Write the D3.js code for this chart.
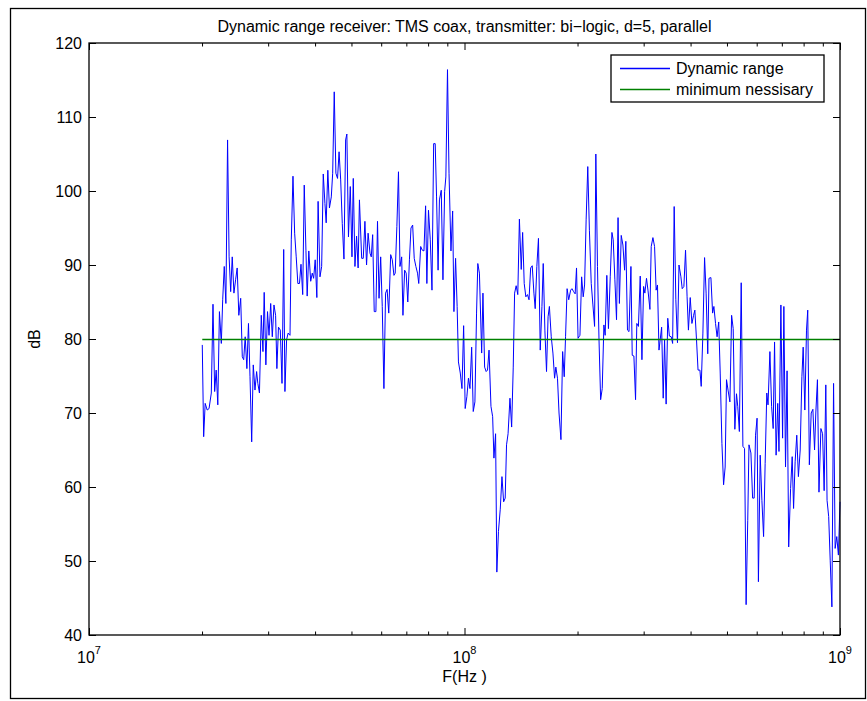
<!DOCTYPE html>
<html>
<head>
<meta charset="utf-8">
<script src="https://cdn.jsdelivr.net/npm/d3@7"></script>
<style>
  body { margin: 0; background: #fff; }
  text { font-family: "Liberation Sans", Arial, Helvetica, sans-serif; fill: #000; }
</style>
</head>
<body>
<svg width="867" height="701"></svg>
<script>
var freqMHz = [
  20.03, 20.20, 20.39, 20.64, 20.88, 21.17, 21.39, 21.61, 21.81, 22.03,
  22.25, 22.51, 22.70, 22.92, 23.15, 23.39, 23.61, 23.84, 24.07, 24.32,
  24.57, 24.81, 25.06, 25.35, 25.60, 25.82, 26.06, 26.33, 26.59, 26.84,
  27.12, 27.38, 27.67, 27.95, 28.16, 28.44, 28.76, 29.06, 29.28, 29.58,
  29.88, 30.16, 30.47, 30.77, 31.09, 31.40, 31.65, 31.96, 32.32, 32.66,
  33.00, 33.25, 33.59, 33.91, 34.30, 34.57, 34.93, 35.29, 35.63, 35.99,
  36.35, 36.69, 37.08, 37.43, 37.82, 38.11, 38.49, 38.94, 39.32, 39.65,
  40.03, 40.44, 40.75, 41.22, 41.65, 42.06, 42.49, 42.82, 43.25, 43.68,
  44.18, 44.56, 44.99, 45.45, 45.91, 46.34, 46.80, 47.26, 47.75, 48.24,
  48.61, 49.09, 49.64, 50.16, 50.56, 51.08, 51.59, 52.08, 52.51, 53.23,
  53.75, 54.30, 54.85, 55.37, 56.01, 56.46, 56.94, 57.49, 58.08, 58.66,
  59.21, 59.81, 60.39, 61.01, 61.64, 62.22, 62.85, 63.59, 64.22, 64.88,
  65.38, 66.05, 66.71, 67.32, 68.03, 68.56, 69.27, 69.93, 70.63, 71.34,
  72.02, 72.77, 73.47, 74.22, 74.97, 75.54, 76.44, 77.19, 77.98, 78.78,
  79.39, 80.18, 81.07, 81.92, 82.76, 83.56, 84.25, 85.05, 85.75, 86.72,
  87.62, 88.52, 89.20, 90.10, 90.95, 92.03, 92.99, 93.72, 94.68, 95.58,
  96.36, 97.44, 98.46, 99.47, 100.43, 101.45, 102.46, 103.41, 104.49, 105.51,
  106.59, 107.67, 108.50, 109.58, 111.10, 111.98, 113.13, 114.21, 115.16, 116.24,
  117.62, 118.84, 119.78, 121.00, 121.93, 123.15, 124.52, 125.82, 127.12, 128.34,
  129.41, 130.63, 132.15, 133.53, 134.83, 135.97, 137.27, 138.65, 140.03, 141.62,
  142.83, 144.22, 145.68, 147.15, 148.54, 150.03, 151.50, 153.06, 154.26, 155.82,
  157.38, 159.12, 160.78, 162.05, 163.71, 165.37, 166.94, 168.30, 170.22, 171.99,
  173.75, 175.10, 176.87, 178.53, 180.65, 182.53, 184.30, 185.84, 187.61, 189.49,
  191.72, 193.25, 195.24, 197.12, 198.77, 200.64, 202.97, 205.09, 207.09, 208.84,
  210.83, 212.96, 215.08, 217.53, 219.78, 222.04, 223.76, 226.02, 228.14, 230.44,
  232.69, 235.09, 236.93, 239.33, 241.73, 244.41, 246.96, 248.91, 251.46, 254.01,
  256.41, 258.51, 261.45, 264.17, 266.88, 268.95, 271.66, 274.21, 277.48, 279.68,
  282.56, 285.45, 287.65, 290.53, 293.76, 296.83, 299.89, 302.24, 305.30, 308.19,
  311.76, 314.25, 317.51, 320.77, 323.84, 326.52, 329.59, 334.94, 338.20, 341.05,
  344.31, 347.78, 351.24, 355.25, 358.28, 361.75, 365.43, 369.12, 372.59, 377.01,
  380.01, 383.93, 387.85, 391.53, 394.76, 399.14, 403.30, 407.47, 410.65, 414.82,
  418.74, 423.59, 426.98, 431.41, 435.83, 440.00, 444.43, 447.82, 453.15, 457.86,
  461.46, 466.17, 470.60, 475.31, 479.74, 484.75, 489.76, 494.47, 498.59, 503.30,
  509.13, 514.45, 519.46, 524.79, 530.11, 534.18, 539.50, 545.65, 551.31, 556.97,
  562.29, 567.95, 572.28, 579.09, 585.11, 590.77, 595.73, 601.39, 606.34, 613.07,
  619.47, 625.87, 631.89, 638.29, 643.18, 650.63, 657.43, 663.83, 669.44, 675.84,
  682.64, 687.85, 696.02, 703.26, 708.79, 716.02, 722.83, 730.06, 738.68, 745.91,
  752.25, 759.48, 767.17, 774.87, 783.46, 791.64, 797.89, 806.07, 814.24, 820.50,
  828.67, 838.11, 846.80, 855.49, 862.14, 870.83, 879.02, 889.47, 898.71, 907.41,
  916.65, 923.71, 932.96, 941.66, 951.49, 961.32, 970.56, 980.40, 990.22, 1000.0
];
var dynRange = [
  79.2, 66.8, 71.3, 70.4, 70.6, 72.7, 84.7, 72.9, 75.8, 71.1,
  83.7, 79.4, 85.3, 89.8, 84.8, 106.9, 91.1, 86.4, 91.1, 86.2,
  88.0, 89.6, 83.2, 85.5, 77.6, 77.2, 80.3, 76.0, 82.1, 74.9,
  66.1, 76.5, 73.1, 75.6, 74.0, 72.7, 83.2, 78.3, 86.3, 76.5,
  83.7, 80.5, 84.8, 80.3, 84.6, 83.2, 76.0, 81.6, 81.2, 74.0,
  92.1, 72.9, 79.9, 80.8, 80.5, 93.4, 102.0, 94.3, 91.1, 87.5,
  87.5, 90.1, 86.0, 100.8, 92.0, 85.8, 91.9, 87.8, 88.9, 88.2,
  90.7, 85.6, 98.6, 88.4, 89.8, 102.3, 98.3, 95.7, 102.8, 97.7,
  99.2, 102.4, 113.4, 102.4, 101.7, 105.3, 101.5, 95.6, 90.8, 106.9,
  107.7, 93.8, 100.6, 91.1, 101.7, 89.8, 93.9, 89.6, 98.8, 90.9,
  90.9, 95.9, 90.0, 94.3, 91.6, 91.1, 94.1, 83.7, 83.7, 95.9,
  85.5, 91.1, 84.4, 73.3, 86.2, 86.7, 83.5, 91.4, 90.7, 88.6,
  88.9, 95.2, 102.6, 89.8, 91.1, 83.2, 89.3, 88.9, 85.0, 90.7,
  95.0, 95.4, 90.9, 89.8, 88.9, 87.5, 92.5, 92.0, 91.9, 98.0,
  87.5, 97.4, 93.4, 86.6, 106.4, 106.4, 99.2, 89.3, 98.8, 100.1,
  88.0, 99.9, 101.9, 116.4, 102.4, 91.9, 97.3, 83.7, 90.9, 84.4,
  76.9, 75.4, 73.3, 81.8, 70.6, 72.2, 74.7, 73.3, 78.9, 70.2,
  71.5, 83.5, 90.2, 88.9, 78.1, 86.2, 76.2, 75.6, 75.8, 78.5,
  70.9, 69.5, 63.9, 67.2, 48.5, 54.0, 57.0, 61.4, 58.0, 58.5,
  65.7, 67.2, 72.0, 68.1, 76.2, 86.2, 87.2, 86.0, 96.2, 89.4,
  94.4, 87.5, 85.7, 86.0, 85.3, 89.6, 89.9, 86.2, 84.1, 89.8,
  93.6, 78.5, 84.4, 90.2, 81.2, 75.6, 83.0, 84.4, 80.3, 78.1,
  74.7, 76.2, 74.7, 70.0, 66.4, 78.3, 74.9, 80.3, 86.8, 85.3,
  86.6, 86.8, 86.4, 86.1, 89.6, 80.1, 80.5, 88.4, 85.7, 87.3,
  96.1, 103.3, 94.7, 87.5, 84.6, 81.7, 105.0, 89.8, 79.9, 71.8,
  73.3, 81.9, 80.5, 88.6, 81.4, 88.4, 94.4, 93.4, 88.0, 82.6,
  96.4, 84.8, 94.0, 92.7, 89.3, 93.2, 81.2, 81.0, 89.8, 77.8,
  77.7, 71.8, 82.1, 81.7, 88.5, 77.2, 87.1, 86.2, 88.2, 86.5,
  84.0, 92.5, 93.7, 92.5, 86.6, 87.3, 78.5, 81.6, 72.0, 79.9,
  71.2, 82.8, 80.4, 80.3, 79.4, 97.9, 85.3, 79.5, 90.0, 88.4,
  86.8, 87.1, 92.0, 85.7, 81.2, 85.6, 82.1, 83.2, 83.9, 79.9,
  75.8, 75.8, 73.6, 80.8, 91.0, 86.2, 78.0, 88.2, 88.3, 83.5,
  84.4, 82.1, 80.3, 82.3, 75.4, 65.9, 60.3, 62.7, 74.5, 73.1,
  71.5, 83.2, 81.4, 67.8, 72.6, 70.9, 67.5, 87.6, 65.5, 65.2,
  44.1, 55.5, 65.7, 64.6, 58.5, 58.5, 67.0, 69.3, 47.2, 64.3,
  58.2, 53.3, 63.2, 72.7, 71.1, 78.3, 70.9, 67.9, 79.6, 64.3,
  71.3, 64.8, 84.6, 66.6, 84.4, 62.7, 75.7, 51.9, 59.8, 64.1,
  57.1, 63.4, 67.0, 61.4, 65.0, 74.9, 78.9, 70.4, 81.2, 83.9,
  63.0, 70.0, 70.5, 65.0, 70.0, 74.5, 59.3, 67.9, 67.2, 59.5,
  73.8, 58.2, 56.0, 50.1, 43.8, 74.0, 51.7, 53.3, 50.8, 58.0
];
var minNecessary = 80;
var yTicks = [40, 50, 60, 70, 80, 90, 100, 110, 120];
var xDecades = [1e7, 1e8, 1e9];
var xExponents = ["7", "8", "9"];
var legendLabels = ["Dynamic range", "minimum nessisary"];
var legendColors = ["#0000ff", "#008000"];

var svg = d3.select("svg");

var margin = {left: 89, right: 840, top: 43, bottom: 635};

var x = d3.scaleLog().domain([1e7, 1e9]).range([margin.left, margin.right]);
var y = d3.scaleLinear().domain([40, 120]).range([margin.bottom, margin.top]);

// figure frame
svg.append("rect")
  .attr("x", 10.5).attr("y", 8.5)
  .attr("width", 855).attr("height", 690)
  .attr("fill", "none").attr("stroke", "#000").attr("stroke-width", 1.3);

// data lines
var pts = freqMHz.map(function(f, i) { return [f * 1e6, dynRange[i]]; });

var line = d3.line()
  .x(function(d) { return x(d[0]); })
  .y(function(d) { return y(d[1]); });

svg.append("path")
  .datum(pts)
  .attr("fill", "none")
  .attr("stroke", legendColors[0])
  .attr("stroke-width", 1)
  .attr("d", line);

svg.append("line")
  .attr("x1", x(freqMHz[0] * 1e6)).attr("x2", x(freqMHz[freqMHz.length - 1] * 1e6))
  .attr("y1", y(minNecessary) + 0.5).attr("y2", y(minNecessary) + 0.5)
  .attr("stroke", legendColors[1]).attr("stroke-width", 1.5);

// axes, ticks pointing inwards like matlab
var minorX = x.ticks().filter(function(v) { return xDecades.indexOf(v) < 0; });

function styleAxis(g) {
  g.select(".domain").remove();
  g.selectAll(".tick line").attr("stroke", "#000");
}

svg.append("g").attr("transform", "translate(0," + margin.bottom + ")")
  .call(d3.axisBottom(x).tickValues(minorX).tickSize(-3.5).tickFormat(""))
  .call(styleAxis);
svg.append("g").attr("transform", "translate(0," + margin.bottom + ")")
  .call(d3.axisBottom(x).tickValues(xDecades).tickSize(-7).tickFormat(""))
  .call(styleAxis);
svg.append("g").attr("transform", "translate(0," + margin.top + ")")
  .call(d3.axisTop(x).tickValues(minorX).tickSize(-3.5).tickFormat(""))
  .call(styleAxis);
svg.append("g").attr("transform", "translate(0," + margin.top + ")")
  .call(d3.axisTop(x).tickValues(xDecades).tickSize(-7).tickFormat(""))
  .call(styleAxis);

var yAxis = svg.append("g").attr("transform", "translate(" + margin.left + ",0)")
  .call(d3.axisLeft(y).tickValues(yTicks).tickSize(-7).tickPadding(7))
  .call(styleAxis);
yAxis.selectAll(".tick text")
  .attr("font-size", 16)
  .style("font-family", '"Liberation Sans", Arial, sans-serif');

svg.append("g").attr("transform", "translate(" + margin.right + ",0)")
  .call(d3.axisRight(y).tickValues(yTicks).tickSize(-7).tickFormat(""))
  .call(styleAxis);

// x tick labels as 10^n
xDecades.forEach(function(v, i) {
  var t = svg.append("text")
    .attr("x", x(v))
    .attr("y", 663)
    .attr("text-anchor", "middle")
    .attr("font-size", 16);
  t.append("tspan").text("10");
  t.append("tspan").attr("dy", -9).attr("font-size", 11).text(xExponents[i]);
});

// box
svg.append("rect")
  .attr("x", margin.left).attr("y", margin.top)
  .attr("width", margin.right - margin.left).attr("height", margin.bottom - margin.top)
  .attr("fill", "none").attr("stroke", "#000").attr("stroke-width", 1.3);

// labels
svg.append("text")
  .attr("x", (margin.left + margin.right) / 2).attr("y", 32)
  .attr("text-anchor", "middle").attr("font-size", 16)
  .text("Dynamic range receiver: TMS coax, transmitter: bi\u2212logic, d=5, parallel");

svg.append("text")
  .attr("x", (margin.left + margin.right) / 2).attr("y", 682)
  .attr("text-anchor", "middle").attr("font-size", 16)
  .text("F(Hz )");

svg.append("text")
  .attr("transform", "translate(40," + y(80) + ") rotate(-90)")
  .attr("text-anchor", "middle").attr("font-size", 16)
  .text("dB");

// legend
var legend = svg.append("g").attr("transform", "translate(611,55)");
legend.append("rect")
  .attr("width", 213).attr("height", 47)
  .attr("fill", "#fff").attr("stroke", "#000").attr("stroke-width", 1.3);
legendLabels.forEach(function(label, i) {
  var ly = 13.5 + i * 21;
  legend.append("line")
    .attr("x1", 9).attr("x2", 59).attr("y1", ly).attr("y2", ly)
    .attr("stroke", legendColors[i]).attr("stroke-width", 1.5);
  legend.append("text")
    .attr("x", 65).attr("y", ly + 5)
    .attr("font-size", 16)
    .text(label);
});
</script>
</body>
</html>
